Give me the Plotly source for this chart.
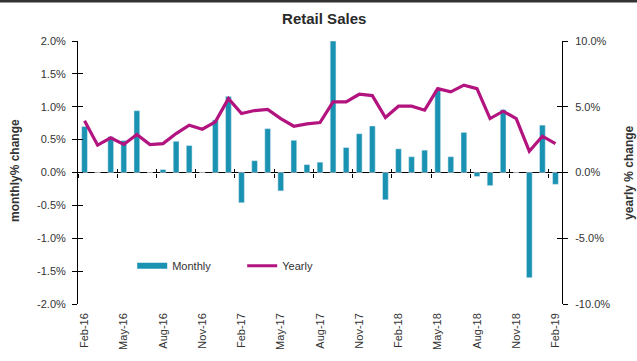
import plotly.graph_objects as go

months = ["Feb-16", "Mar-16", "Apr-16", "May-16", "Jun-16", "Jul-16", "Aug-16", "Sep-16",
          "Oct-16", "Nov-16", "Dec-16", "Jan-17", "Feb-17", "Mar-17", "Apr-17", "May-17",
          "Jun-17", "Jul-17", "Aug-17", "Sep-17", "Oct-17", "Nov-17", "Dec-17", "Jan-18",
          "Feb-18", "Mar-18", "Apr-18", "May-18", "Jun-18", "Jul-18", "Aug-18", "Sep-18",
          "Oct-18", "Nov-18", "Dec-18", "Jan-19", "Feb-19"]

monthly = [0.70, 0.0, 0.545, 0.485, 0.94, 0.0, 0.045, 0.475,
           0.41, 0.0, 0.80, 1.157, -0.46, 0.18, 0.667, -0.28,
           0.49, 0.12, 0.157, 2.0, 0.38, 0.59, 0.707, -0.415,
           0.36, 0.24, 0.34, 1.26, 0.24, 0.61, -0.06, -0.20,
           0.955, 0.0, -1.60, 0.72, -0.18]

yearly = [3.93, 2.08, 2.63, 2.13, 2.89, 2.13, 2.20, 2.96,
          3.60, 3.29, 3.85, 5.62, 4.48, 4.71, 4.79, 4.10,
          3.52, 3.70, 3.80, 5.37, 5.37, 5.95, 5.85, 4.18,
          5.04, 5.04, 4.74, 6.38, 6.13, 6.64, 6.38, 4.10,
          4.66, 4.10, 1.62, 2.76, 2.20]

left_ticks = [-2.0, -1.5, -1.0, -0.5, 0.0, 0.5, 1.0, 1.5, 2.0]
right_ticks = [-10.0, -5.0, 0.0, 5.0, 10.0]

TEAL = "#1a93b3"
MAGENTA = "#b3137f"
FONT = "Liberation Sans, Arial, sans-serif"
TXT = "#333333"

idx = list(range(len(months)))
n = len(months)

fig = go.Figure()
fig.add_trace(go.Bar(x=idx, y=monthly, marker_color=TEAL, width=0.44,
                     name="Monthly", showlegend=False, xaxis="x", yaxis="y"))
fig.add_trace(go.Scatter(x=idx, y=yearly, mode="lines", line=dict(color=MAGENTA, width=3.2),
                         name="Yearly", showlegend=False, xaxis="x", yaxis="y2"))
# legend entries
fig.add_trace(go.Scatter(x=[None], y=[None], mode="lines", line=dict(color=TEAL, width=6),
                         name="Monthly", xaxis="x", yaxis="y"))
fig.add_trace(go.Scatter(x=[None], y=[None], mode="lines", line=dict(color=MAGENTA, width=3),
                         name="Yearly", xaxis="x", yaxis="y"))
# helper traces for tick-only overlay axes
for xa, ya in [("x2", "y"), ("x3", "y"), ("x", "y3"), ("x", "y4"), ("x", "y5")]:
    fig.add_trace(go.Scatter(x=[None], y=[None], showlegend=False, hoverinfo="skip",
                             xaxis=xa, yaxis=ya))

xr = [-0.5, n - 0.5]
tickfont = dict(family=FONT, size=11, color=TXT)

fig.update_layout(
    width=637, height=361,
    margin=dict(l=78, r=75, t=41, b=57),
    paper_bgcolor="white", plot_bgcolor="white",
    showlegend=True,
    title=dict(text="<b>Retail Sales</b>", x=0.509, xanchor="center", y=0.947, yanchor="middle",
               yref="container", font=dict(family=FONT, size=15, color="#2a2a2a")),
    legend=dict(orientation="h", x=0.112, xanchor="left", y=0.145, yanchor="middle",
                font=dict(family=FONT, size=11, color=TXT), bgcolor="rgba(0,0,0,0)",
                entrywidth=65, entrywidthmode="pixels", itemwidth=30),
    xaxis=dict(range=xr, tickmode="array", tickvals=idx[::3], ticktext=months[::3],
               tickangle=-90, ticks="", showline=False, showgrid=False, zeroline=False,
               tickfont=tickfont, ticklabelstandoff=6),
    xaxis2=dict(range=xr, overlaying="x", anchor="free", position=0.5, tick0=-0.5, dtick=3,
                ticks="outside", ticklen=4, tickcolor="black", showticklabels=False,
                showline=False, showgrid=False, zeroline=False),
    xaxis3=dict(range=xr, overlaying="x", anchor="free", position=0.5, tick0=-0.5, dtick=3,
                ticks="inside", ticklen=4, tickcolor="black", showticklabels=False,
                showline=False, showgrid=False, zeroline=False),
    yaxis=dict(range=[-2, 2], tickmode="array", tickvals=left_ticks,
               ticktext=[f"{v:.1f}%" for v in left_ticks], ticks="outside", ticklen=5,
               tickcolor="black", showline=True, linecolor="black", linewidth=1,
               showgrid=False, zeroline=True, zerolinecolor="black", zerolinewidth=1,
               tickfont=tickfont, ticklabelstandoff=4),
    yaxis2=dict(range=[-10, 10], tickmode="array", tickvals=right_ticks,
                ticktext=[f"{v:.1f}%" for v in right_ticks], overlaying="y", side="right",
                anchor="x", ticks="outside", ticklen=5, tickcolor="black", showline=True,
                linecolor="black", linewidth=1, showgrid=False, zeroline=False,
                tickfont=tickfont, ticklabelstandoff=5),
    yaxis3=dict(range=[-2, 2], tickmode="array", tickvals=left_ticks, overlaying="y",
                anchor="x", side="left", ticks="inside", ticklen=5, tickcolor="black",
                showticklabels=False, showline=False, showgrid=False, zeroline=False),
    yaxis4=dict(range=[-10, 10], tickmode="array", tickvals=right_ticks, overlaying="y",
                anchor="x", side="right", ticks="inside", ticklen=5, tickcolor="black",
                showticklabels=False, showline=False, showgrid=False, zeroline=False),
    yaxis5=dict(range=[-2, 2], overlaying="y", visible=False),
    annotations=[
        dict(text="<b>monthly% change</b>", textangle=-90, x=-0.130, y=0.506, xref="paper",
             yref="paper", showarrow=False, xanchor="center", yanchor="middle",
             font=dict(family=FONT, size=12, color=TXT)),
        dict(text="<b>yearly % change</b>", textangle=-90, x=1.137, y=0.50, xref="paper",
             yref="paper", showarrow=False, xanchor="center", yanchor="middle",
             font=dict(family=FONT, size=12, color=TXT)),
    ],
    shapes=[dict(type="rect", xref="paper", yref="paper", x0=-0.2, x1=1.2,
                 y0=1 + 38.5 / 263, y1=1 + 41 / 263, layer="above",
                 fillcolor="#333333", line=dict(width=0))],
)

fig.write_html("out.html", config={"displayModeBar": False},
               post_script="document.body.style.margin='0px';document.body.style.overflow='hidden';")
